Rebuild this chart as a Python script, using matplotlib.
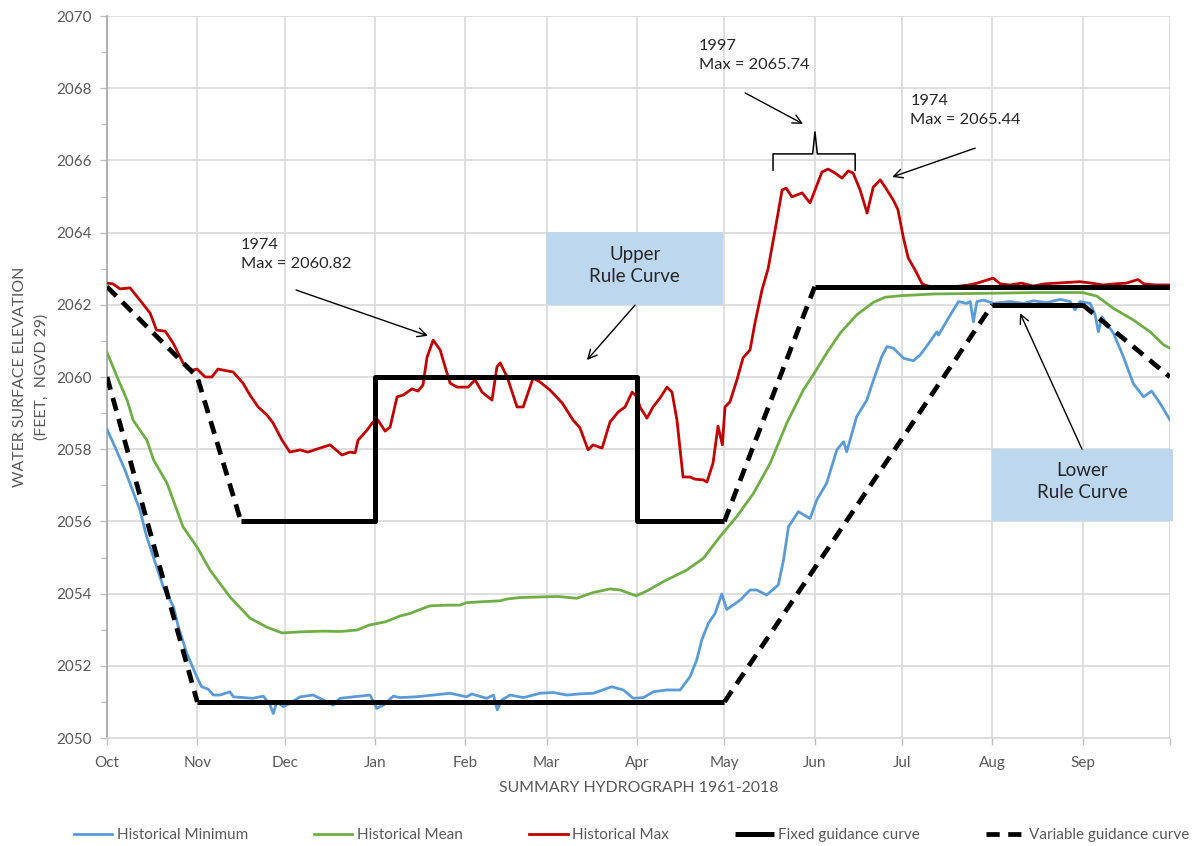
import numpy as np
import matplotlib
matplotlib.use("Agg")
import matplotlib.pyplot as plt
from matplotlib.patches import Rectangle

plt.rcParams['font.family'] = ['Lato', 'DejaVu Sans']

# day of water year (0 = Oct 1) and elevation (ft)
month_days = [0, 31, 61, 92, 123, 151, 182, 212, 243, 273, 304, 335, 365]
month_labels = ["Oct", "Nov", "Dec", "Jan", "Feb", "Mar", "Apr", "May", "Jun", "Jul", "Aug", "Sep", ""]

max_day = [0, 2, 4.5, 7.9, 11.3, 14.8, 17, 20, 22.7, 26.1, 29.2, 30.9, 33.7, 36, 38.1, 41.2, 43.3,
           46.7, 49.1, 51.9, 54.9, 57, 60.1, 62.8, 66.3, 69, 73.1, 76.6, 80.7, 83.4, 85.2, 86.2,
           89.3, 91.3, 93, 95.5, 97.2, 99.6, 101.7, 104.7, 106.8, 108.5, 109.9, 112, 114.4, 116.1,
           117.8, 120.2, 124, 126.4, 128.8, 132.2, 133.9, 135, 137.4, 140.8, 142.9, 146.3, 148.7,
           152.1, 156.3, 160, 162.4, 165.2, 166.9, 170, 172.7, 175.5, 177.9, 180.3, 182, 183,
           185.4, 187.5, 189.9, 192.3, 194, 195.7, 197.8, 200.2, 201.9, 204.7, 206, 208.1, 209.8,
           211.3, 212.2, 213.9, 216.3, 218.4, 220.8, 222.5, 224.9, 227, 229.4, 231.8, 233.2, 235.2,
           238.7, 241.4, 243.1, 245.5, 247.6, 250, 252.4, 254.5, 256.2, 258.6, 261, 263.1, 265.5,
           267.2, 270, 271.6, 273.4, 275.1, 277.5, 279.9, 283.7, 288.5, 292.9, 296, 298.8, 304.3,
           306.7, 310, 314, 318, 322, 326, 330, 334, 338, 342, 346, 350, 354, 356, 360, 365]
max_val = [2062.60, 2062.58, 2062.44, 2062.47, 2062.13, 2061.77, 2061.30, 2061.27, 2060.94, 2060.39,
           2060.19, 2060.22, 2060.00, 2060.00, 2060.22, 2060.17, 2060.14, 2059.83, 2059.50, 2059.17,
           2058.95, 2058.73, 2058.25, 2057.92, 2057.98, 2057.92, 2058.03, 2058.12, 2057.84, 2057.92,
           2057.90, 2058.25, 2058.53, 2058.75, 2058.81, 2058.50, 2058.61, 2059.45, 2059.50, 2059.67,
           2059.61, 2059.78, 2060.55, 2061.02, 2060.75, 2060.28, 2059.83, 2059.72, 2059.72, 2059.92,
           2059.58, 2059.36, 2060.28, 2060.39, 2060.00, 2059.17, 2059.17, 2059.97, 2059.86, 2059.64,
           2059.28, 2058.81, 2058.59, 2057.98, 2058.12, 2058.03, 2058.75, 2059.03, 2059.17, 2059.58,
           2059.45, 2059.17, 2058.86, 2059.17, 2059.42, 2059.72, 2059.58, 2058.81, 2057.23, 2057.23,
           2057.17, 2057.15, 2057.09, 2057.62, 2058.64, 2058.12, 2059.17, 2059.31, 2059.92, 2060.53,
           2060.75, 2061.50, 2062.41, 2063.00, 2064.07, 2065.18, 2065.23, 2064.99, 2065.10, 2064.82,
           2065.18, 2065.68, 2065.76, 2065.65, 2065.51, 2065.71, 2065.65, 2065.18, 2064.54, 2065.26,
           2065.46, 2065.26, 2064.90, 2064.63, 2063.88, 2063.30, 2062.96, 2062.58, 2062.47, 2062.47,
           2062.52, 2062.55, 2062.60, 2062.74, 2062.58, 2062.55, 2062.60, 2062.52, 2062.58, 2062.60,
           2062.62, 2062.64, 2062.60, 2062.55, 2062.58, 2062.60, 2062.70, 2062.58, 2062.55, 2062.55]

mean_day = [0, 3.9, 6.9, 9, 13.7, 16, 20.6, 26.1, 30.9, 35.4, 42.2, 49.1, 54.9, 60.1, 66.3, 74.2, 80,
            85.8, 90.1, 95.7, 100.6, 104.1, 107.5, 110.9, 116.7, 121.2, 123.5, 130, 135, 137.3, 141.8,
            149.8, 155, 161.3, 167, 172.7, 176.2, 181.7, 185.3, 191, 199, 204.8, 210.5, 216.2, 222,
            227.7, 233.4, 239.1, 242.5, 247.1, 251.7, 257.4, 263.2, 267.2, 272.3, 283.8, 304, 318.1,
            334.9, 339.9, 345.6, 352.4, 358.2, 362.8, 365]
mean_val = [2060.68, 2059.92, 2059.36, 2058.80, 2058.25, 2057.70, 2057.06, 2055.85, 2055.29, 2054.65,
            2053.91, 2053.32, 2053.07, 2052.91, 2052.94, 2052.96, 2052.95, 2052.99, 2053.13, 2053.22,
            2053.38, 2053.45, 2053.56, 2053.66, 2053.68, 2053.68, 2053.75, 2053.78, 2053.80, 2053.85,
            2053.89, 2053.91, 2053.92, 2053.87, 2054.03, 2054.13, 2054.10, 2053.94, 2054.07, 2054.33,
            2054.65, 2054.98, 2055.58, 2056.13, 2056.78, 2057.61, 2058.72, 2059.64, 2060.06, 2060.66,
            2061.21, 2061.72, 2062.07, 2062.21, 2062.25, 2062.30, 2062.32, 2062.34, 2062.34, 2062.24,
            2061.90, 2061.58, 2061.25, 2060.89, 2060.80]

min_day = [0, 2.7, 6.2, 9.6, 11.3, 13.6, 15.9, 19.3, 22.8, 24.5, 27.4, 30.8, 32.5, 34.8, 36.5, 38.8,
           42.2, 43.4, 46.8, 50, 53.7, 56, 57.1, 58.3, 60.5, 62.8, 66.3, 70.8, 74.3, 77.7, 80, 84.6,
           90.3, 92.6, 94.9, 98.3, 100.6, 106, 112.1, 117.8, 123.5, 125.2, 130.4, 132.7, 134, 135.5,
           138.4, 143, 148.7, 153.3, 157.9, 162, 167, 173.3, 177.3, 180.7, 184.2, 187.6, 192.2,
           196.8, 200.2, 202.5, 204.2, 206.5, 208.8, 211.1, 212.8, 217.4, 220.8, 223.1, 226.5, 230.5,
           232.3, 234, 237.4, 241.4, 243.7, 247.1, 250.6, 252.9, 254, 257.4, 260.9, 263.2, 266, 267.8,
           270, 273.5, 276.9, 279.2, 282.6, 284.9, 285.5, 288.9, 292.4, 295.2, 296.4, 297.5, 298.7,
           301, 304.4, 310.1, 314.7, 318.1, 322.7, 327.3, 330.7, 332.4, 334.1, 337.6, 339.3, 340.4,
           341.6, 345.6, 349, 352.4, 355.9, 358.7, 361.6, 365]
min_val = [2058.55, 2058.07, 2057.42, 2056.68, 2056.32, 2055.58, 2055.02, 2054.19, 2053.64, 2053.08,
           2052.35, 2051.70, 2051.42, 2051.35, 2051.19, 2051.19, 2051.28, 2051.14, 2051.12, 2051.10,
           2051.16, 2050.91, 2050.68, 2051.00, 2050.87, 2050.96, 2051.14, 2051.19, 2051.05, 2050.91,
           2051.10, 2051.14, 2051.19, 2050.82, 2050.91, 2051.16, 2051.12, 2051.14, 2051.19, 2051.24,
           2051.14, 2051.22, 2051.10, 2051.19, 2050.78, 2051.05, 2051.19, 2051.12, 2051.24, 2051.26,
           2051.19, 2051.22, 2051.24, 2051.42, 2051.33, 2051.10, 2051.12, 2051.28, 2051.33, 2051.33,
           2051.70, 2052.16, 2052.71, 2053.18, 2053.45, 2053.99, 2053.56, 2053.82, 2054.10, 2054.10,
           2053.96, 2054.24, 2054.93, 2055.85, 2056.27, 2056.08, 2056.59, 2057.06, 2057.98, 2058.21,
           2057.93, 2058.90, 2059.36, 2059.92, 2060.56, 2060.84, 2060.80, 2060.52, 2060.45, 2060.61,
           2060.98, 2061.25, 2061.16, 2061.63, 2062.09, 2062.04, 2062.09, 2061.53, 2062.09, 2062.13,
           2062.04, 2062.09, 2062.04, 2062.11, 2062.06, 2062.15, 2062.09, 2061.86, 2062.09, 2062.04,
           2061.72, 2061.25, 2061.67, 2061.21, 2060.56, 2059.82, 2059.45, 2059.61, 2059.27, 2058.81]

# guidance curves (nan separates segments)
nan = np.nan
fixed_day = [46, 92, 92, 182, 182, 212, nan, 243, 365, nan, 31, 212, nan, 304, 335]
fixed_val = [2056, 2056, 2060, 2060, 2056, 2056, nan, 2062.5, 2062.5, nan, 2051, 2051, nan, 2062, 2062]
var_day = [0, 31, 46, nan, 0, 31, nan, 212, 243, nan, 212, 304, nan, 335, 365]
var_val = [2062.5, 2060, 2056, nan, 2060, 2051, nan, 2056, 2062.5, nan, 2051, 2062, nan, 2062, 2060]

BLUE = "#5B9BD5"
GREEN = "#70AD47"
RED = "#C00000"
GRAY = "#595959"
TXT = "#262626"
BOX = "#BDD7EE"

fig = plt.figure(figsize=(12.03, 8.46), dpi=100)
ax = fig.add_axes([107 / 1203, 1 - 738 / 846, 1063 / 1203, 722 / 846])

ax.plot(min_day, min_val, color=BLUE, lw=2.0, label="Historical Minimum", zorder=3)
ax.plot(mean_day, mean_val, color=GREEN, lw=2.0, label="Historical Mean", zorder=3)
ax.plot(max_day, max_val, color=RED, lw=2.0, label="Historical Max", zorder=3)
ax.plot(fixed_day, fixed_val, color="black", lw=3.6, label="Fixed guidance curve",
        solid_capstyle="butt", zorder=4)
ax.plot(var_day, var_val, color="black", lw=3.4, ls=(0, (2.8, 1.8)), label="Variable guidance curve",
        dash_capstyle="butt", zorder=4)

ax.set_xlim(0, 365)
ax.set_ylim(2050, 2070)
ax.set_xticks(month_days)
ax.set_xticklabels(month_labels)
ax.set_yticks(np.arange(2050, 2071, 2))
ax.set_yticks(np.arange(2050, 2071, 1), minor=True)
ax.grid(True, which="major", color="#D9D9D9", lw=1.2, zorder=0)
ax.tick_params(axis="both", which="major", colors="#BFBFBF", labelcolor=GRAY, labelsize=11,
               length=5, width=1)
ax.tick_params(axis="y", which="minor", colors="#BFBFBF", length=4, width=1)
ax.tick_params(axis="x", pad=8)
ax.tick_params(axis="y", pad=6)
for s in ["top", "right"]:
    ax.spines[s].set_visible(False)
ax.spines["left"].set_color("#A6A6A6")
ax.spines["bottom"].set_color("#D9D9D9")
ax.spines["left"].set_linewidth(1.2)
ax.spines["bottom"].set_linewidth(1.2)

ax.set_xlabel("SUMMARY HYDROGRAPH 1961-2018", color=GRAY, fontsize=11.4, labelpad=8)
fig.text(31 / 1203, 1 - 377 / 846, "WATER SURFACE ELEVATION\n(FEET,  NGVD 29)", rotation=90,
         ha="center", va="center", multialignment="center", color=GRAY, fontsize=11.4, linespacing=1.6)

# rule curve boxes
ax.add_patch(Rectangle((150.8, 2062.0), 60.7, 2.02, facecolor=BOX, edgecolor="none", zorder=2))
ax.text(181.2, 2063.1, "Upper\nRule Curve", ha="center", va="center", color=TXT, fontsize=13.5,
        linespacing=1.35, zorder=5)
ax.add_patch(Rectangle((303.9, 2056.0), 62, 2.0, facecolor=BOX, edgecolor="none", zorder=2,
                       clip_on=False))
ax.text(334.8, 2057.1, "Lower\nRule Curve", ha="center", va="center", color=TXT, fontsize=13.5,
        linespacing=1.35, zorder=5)

arrow = dict(arrowstyle="->", color="black", lw=1, shrinkA=0, shrinkB=0, mutation_scale=16)
ax.annotate("", xy=(164.8, 2060.47), xytext=(181.3, 2061.99), arrowprops=arrow, zorder=5)
ax.annotate("", xy=(313.5, 2061.77), xytext=(334.8, 2058.0), arrowprops=arrow, zorder=5)

# peak notes
ax.text(46, 2063.85, "1974\nMax = 2060.82", ha="left", va="top", color=TXT, fontsize=11.8, linespacing=1.45)
ax.annotate("", xy=(110.2, 2061.14), xytext=(64.9, 2062.41), arrowprops=arrow, zorder=5)
ax.text(203.3, 2069.35, "1997\nMax = 2065.74", ha="left", va="top", color=TXT, fontsize=11.8, linespacing=1.45)
ax.annotate("", xy=(239.0, 2067.01), xytext=(219.1, 2067.87), arrowprops=arrow, zorder=5)
ax.text(275.8, 2067.85, "1974\nMax = 2065.44", ha="left", va="top", color=TXT, fontsize=11.8, linespacing=1.45)
ax.annotate("", xy=(269.6, 2065.54), xytext=(298.1, 2066.34), arrowprops=arrow, zorder=5)

# bracket over the 1997 peak
b0, b1, bc = 228.7, 256.9, 243.1
ax.plot([b0, b0, bc - 0.8, bc, bc + 0.8, b1, b1],
        [2065.73, 2066.18, 2066.18, 2066.79, 2066.18, 2066.18, 2065.73], color="black", lw=1.1, zorder=5)

fig.legend(loc="lower left", ncol=5, bbox_to_anchor=(0.05, -0.012, 0.95, 0.04), mode="expand",
           frameon=False, fontsize=11, handlelength=2.5, handletextpad=0.3, labelcolor=GRAY)

fig.savefig("out.png", dpi=100)
